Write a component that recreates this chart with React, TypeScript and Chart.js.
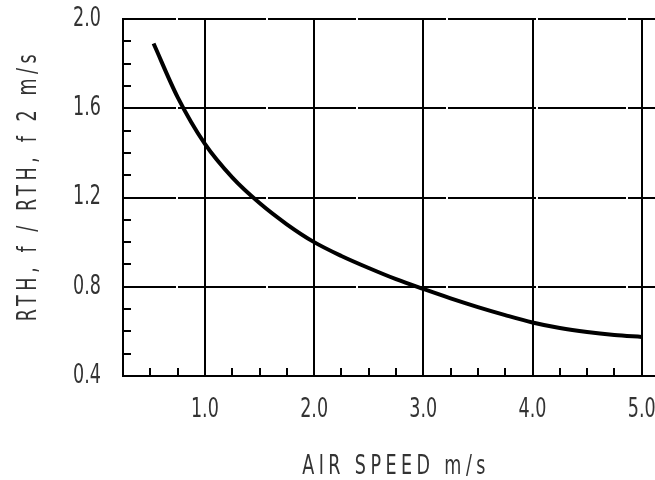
import React, { useEffect, useRef } from "react";
import { Chart, registerables } from "chart.js";

Chart.register(...registerables);

// Data
const airSpeed = [0.53, 0.75, 1.0, 1.25, 1.5, 1.75, 2.0, 2.25, 2.5, 2.75, 3.0, 3.25, 3.5, 3.75, 4.0, 4.25, 4.5, 4.75, 5.0];
const rthRatio = [1.89, 1.65, 1.44, 1.29, 1.175, 1.08, 1.0, 0.938, 0.884, 0.834, 0.79, 0.748, 0.709, 0.673, 0.64, 0.615, 0.597, 0.584, 0.575];

const xMajorTicks = [1, 2, 3, 4, 5];
const xTickLabels = ["1.0", "2.0", "3.0", "4.0", "5.0"];
const yMajorTicks = [0.4, 0.8, 1.2, 1.6, 2.0];
const yTickLabels = ["0.4", "0.8", "1.2", "1.6", "2.0"];

const xTitle = "AIR SPEED m/s";
const yTitle = "RTH, f / RTH, f 2 m/s";

const FONT = "'DejaVu Sans Condensed', 'DejaVu Sans', sans-serif";
const TEXT_SCALE_X = 0.75; // narrow technical lettering
const TRANSPARENT = "rgba(0,0,0,0)";

const findMajor = (list: number[], v: number) =>
  list.findIndex((m) => Math.abs(m - v) < 1e-6);

const titleSpacingPlugin = {
  id: "titleSpacing",
  beforeDraw(chart: any) {
    const cfg: Record<string, { spacing: string; dx: number; dy: number }> = {
      x: { spacing: "5.9px", dx: 0, dy: 0 },
      y: { spacing: "6.1px", dx: 0, dy: -12 },
    };
    Object.keys(cfg).forEach((id) => {
      const scale = chart.scales[id];
      if (!scale || scale.__patched) return;
      const orig = scale.drawTitle.bind(scale);
      scale.drawTitle = function () {
        const ctx = this.ctx;
        ctx.save();
        (ctx as any).letterSpacing = cfg[id].spacing;
        ctx.translate(cfg[id].dx, cfg[id].dy);
        orig();
        ctx.restore();
      };
      scale.__patched = true;
    });
  },
};

function narrowText(ctx: any) {
  if (ctx.__narrow) return;
  const origFill = ctx.fillText.bind(ctx);
  ctx.fillText = (t: string, x: number, y: number, maxW?: number) => {
    ctx.save();
    ctx.translate(x, y);
    ctx.scale(TEXT_SCALE_X, 1);
    if (maxW === undefined || maxW === null) origFill(t, 0, 0);
    else origFill(t, 0, 0, maxW / TEXT_SCALE_X);
    ctx.restore();
  };
  ctx.__narrow = true;
}

const noPadding = (s: any) => {
  s.paddingTop = 0;
  s.paddingBottom = 0;
  s.paddingLeft = 0;
  s.paddingRight = 0;
};

export default function App() {
  const canvasRef = useRef<HTMLCanvasElement | null>(null);

  useEffect(() => {
    if (!canvasRef.current) return;
    const ctx = canvasRef.current.getContext("2d");
    narrowText(ctx);
    const chart = new Chart(canvasRef.current, {
      type: "line",
      data: {
        datasets: [
          {
            data: airSpeed.map((x, i) => ({ x, y: rthRatio[i] })),
            borderColor: "#000",
            borderWidth: 4,
            pointRadius: 0,
            cubicInterpolationMode: "monotone",
            fill: false,
          },
        ],
      },
      options: {
        responsive: false,
        animation: false,
        events: [],
        layout: { padding: { top: 19, left: 0, right: 3, bottom: 0 } },
        plugins: {
          legend: { display: false },
          tooltip: { enabled: false },
        },
        scales: {
          x: {
            type: "linear",
            min: 0.25,
            max: 5.25,
            afterFit: (s: any) => {
              s.height = 104;
              noPadding(s);
            },
            ticks: {
              stepSize: 0.25,
              autoSkip: false,
              maxRotation: 0,
              padding: 27,
              color: "#333",
              font: { family: FONT, size: 26 },
              callback: (v: any) => {
                const i = findMajor(xMajorTicks, Number(v));
                return i >= 0 ? xTickLabels[i] : "";
              },
            },
            grid: {
              lineWidth: 2,
              tickLength: -8,
              tickWidth: 2,
              color: (c: any) =>
                findMajor(xMajorTicks, c.tick?.value) >= 0 ? "#000" : TRANSPARENT,
              tickColor: (c: any) =>
                Math.abs((c.tick?.value ?? 0) - 0.25) < 1e-6 || (c.tick?.value ?? 0) > 5.01
                  ? TRANSPARENT
                  : "#000",
            },
            border: { display: true, color: "#000", width: 2 },
            title: {
              display: true,
              text: xTitle,
              color: "#333",
              font: { family: FONT, size: 26, lineHeight: 1 },
              padding: { top: 0, bottom: 0 },
            },
          },
          y: {
            type: "linear",
            min: 0.4,
            max: 2.0,
            afterFit: (s: any) => {
              s.width = 123;
              noPadding(s);
            },
            ticks: {
              stepSize: 0.1,
              autoSkip: false,
              padding: 30,
              color: "#333",
              font: { family: FONT, size: 26 },
              callback: (v: any) => {
                const i = findMajor(yMajorTicks, Number(v));
                return i >= 0 ? yTickLabels[i] : "";
              },
            },
            grid: {
              lineWidth: 2,
              tickLength: -8,
              tickWidth: 2,
              color: (c: any) =>
                findMajor(yMajorTicks, c.tick?.value) >= 0 ? "#000" : TRANSPARENT,
              tickColor: "#000",
            },
            border: { display: true, color: "#000", width: 2, dash: [88, 2], dashOffset: 36 },
            title: {
              display: true,
              text: yTitle,
              color: "#333",
              font: { family: FONT, size: 26, lineHeight: 1 },
              padding: { top: 16, bottom: 0 },
            },
          },
        },
      },
      plugins: [titleSpacingPlugin],
    } as any);
    return () => chart.destroy();
  }, []);

  return (
    <div
      style={{
        position: "fixed",
        left: 0,
        top: 0,
        width: 655,
        height: 480,
        overflow: "hidden",
        background: "#fff",
      }}
    >
      <canvas ref={canvasRef} width={672} height={480} style={{ display: "block" }} />
    </div>
  );
}
